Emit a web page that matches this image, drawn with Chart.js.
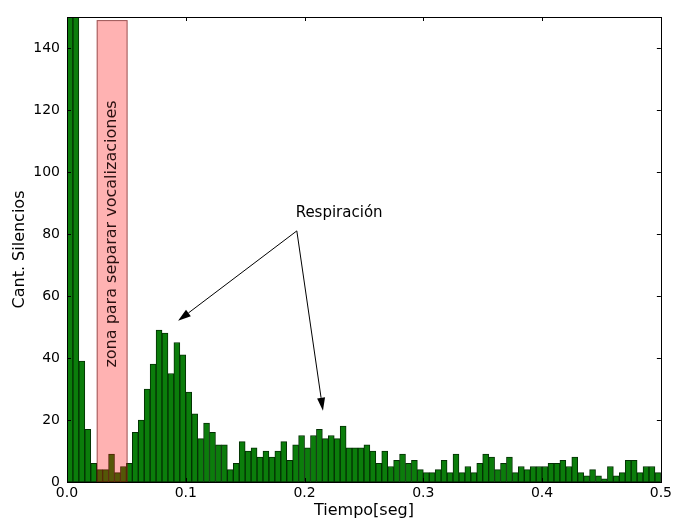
<!DOCTYPE html>
<html>
<head>
<meta charset="utf-8">
<script src="https://cdn.jsdelivr.net/npm/chart.js@4.4.0/dist/chart.umd.min.js"></script>
<style>
  body { margin: 0; background: #fff; }
  #wrap { width: 675px; height: 518px; }
</style>
</head>
<body>
<div id="wrap"><canvas id="silenceChart"></canvas></div>
<script>
// histogram of silence durations, bins of 5 ms
const binWidth = 0.005;
const counts = [
  260, 170, 39, 17, 6, 4, 4, 9, 3, 5,
  6, 16, 20, 30, 38, 49, 48, 35, 45, 41,
  29, 22, 14, 19, 16, 12, 12, 4, 6, 13,
  10, 11, 8, 10, 8, 10, 13, 7, 12, 15,
  11, 15, 17, 14, 15, 14, 18, 11, 11, 11,
  12, 10, 6, 10, 5, 7, 9, 6, 7, 4,
  3, 3, 4, 7, 3, 9, 3, 5, 3, 6,
  9, 8, 4, 6, 8, 3, 5, 4, 5, 5,
  5, 6, 6, 7, 5, 8, 3, 2, 4, 2,
  1, 5, 2, 3, 7, 7, 3, 5, 5, 3
];
const xTicks = [0, 0.1, 0.2, 0.3, 0.4, 0.5];
const yTicks = [0, 20, 40, 60, 80, 100, 120, 140];

// shaded zone and the "Respiración" callout, in data units
const zoneStart = 0.025;
const zoneEnd = 0.051;
const zoneTop = 149;
const zoneLabel = 'zona para separar vocalizaciones';
const zoneLabelAt = 80;
const noteText = 'Respiración';
const noteAt = [0.1925, 86.8];
const arrowFrom = [0.1935, 81];
const arrowTips = [[0.0935, 52], [0.2155, 23]];

const FONT = 'DejaVu Sans';

const decorations = {
  id: 'decorations',
  afterDatasetsDraw(chart) {
    const { ctx, scales: { x, y } } = chart;
    ctx.save();
    // translucent red span over the bars
    const x0 = x.getPixelForValue(zoneStart), x1 = x.getPixelForValue(zoneEnd);
    const yt = y.getPixelForValue(zoneTop), yb = y.getPixelForValue(0);
    ctx.fillStyle = 'rgba(255,0,0,0.3)';
    ctx.fillRect(x0, yt, x1 - x0, yb - yt);
    ctx.strokeStyle = 'rgba(90,20,20,0.6)';
    ctx.lineWidth = 1;
    ctx.strokeRect(x0 + 0.5, yt + 0.5, x1 - x0 - 1, yb - yt);

    ctx.translate((x0 + x1) / 2, y.getPixelForValue(zoneLabelAt));
    ctx.rotate(-Math.PI / 2);
    ctx.fillStyle = '#2a1010';
    ctx.font = '16px "' + FONT + '"';
    ctx.textAlign = 'center';
    ctx.textBaseline = 'middle';
    ctx.fillText(zoneLabel, 0, 0);
    ctx.restore();

    // callout text and arrows
    ctx.save();
    ctx.fillStyle = '#000';
    ctx.font = '15px "' + FONT + '"';
    ctx.textAlign = 'left';
    ctx.textBaseline = 'middle';
    ctx.fillText(noteText, x.getPixelForValue(noteAt[0]), y.getPixelForValue(noteAt[1]));
    const sx = x.getPixelForValue(arrowFrom[0]), sy = y.getPixelForValue(arrowFrom[1]);
    ctx.strokeStyle = '#000';
    ctx.lineWidth = 1;
    arrowTips.forEach(([tx, ty]) => {
      const ex = x.getPixelForValue(tx), ey = y.getPixelForValue(ty);
      const ang = Math.atan2(ey - sy, ex - sx);
      const len = 13, half = 4;
      const bx = ex - len * Math.cos(ang), by = ey - len * Math.sin(ang);
      ctx.beginPath();
      ctx.moveTo(sx, sy);
      ctx.lineTo(bx, by);
      ctx.stroke();
      ctx.beginPath();
      ctx.moveTo(ex, ey);
      ctx.lineTo(bx + half * Math.sin(ang), by - half * Math.cos(ang));
      ctx.lineTo(bx - half * Math.sin(ang), by + half * Math.cos(ang));
      ctx.closePath();
      ctx.fill();
    });
    ctx.restore();
  },
  afterDraw(chart) {
    const { ctx, chartArea: a, scales: { x, y } } = chart;
    ctx.save();
    ctx.strokeStyle = '#000';
    ctx.lineWidth = 1;
    ctx.strokeRect(Math.round(a.left) + 0.5, Math.round(a.top) + 0.5,
      Math.round(a.right - a.left), Math.round(a.bottom - a.top));
    // inward ticks on all four sides
    const tl = 4;
    ctx.beginPath();
    yTicks.forEach(v => {
      const py = Math.round(y.getPixelForValue(v)) + 0.5;
      ctx.moveTo(a.left, py); ctx.lineTo(a.left + tl, py);
      ctx.moveTo(a.right, py); ctx.lineTo(a.right - tl, py);
    });
    xTicks.forEach(v => {
      const px = Math.round(x.getPixelForValue(v)) + 0.5;
      ctx.moveTo(px, a.bottom); ctx.lineTo(px, a.bottom - tl);
      ctx.moveTo(px, a.top); ctx.lineTo(px, a.top + tl);
    });
    ctx.stroke();

    // axis titles
    ctx.fillStyle = '#000';
    ctx.font = '16px "' + FONT + '"';
    ctx.textAlign = 'center';
    ctx.textBaseline = 'middle';
    ctx.fillText('Tiempo[seg]', (a.left + a.right) / 2, a.bottom + 29);
    ctx.translate(a.left - 47, (a.top + a.bottom) / 2);
    ctx.rotate(-Math.PI / 2);
    ctx.fillText('Cant. Silencios', 0, 0);
    ctx.restore();
  }
};

new Chart(document.getElementById('silenceChart'), {
  type: 'bar',
  data: {
    datasets: [{
      data: counts.map((c, i) => ({ x: (i + 0.5) * binWidth, y: c })),
      backgroundColor: '#0b7d0b',
      borderColor: '#043004',
      borderWidth: 1,
      borderSkipped: false,
      barPercentage: 1,
      categoryPercentage: 1,
      clip: 0
    }]
  },
  options: {
    responsive: true,
    maintainAspectRatio: false,
    animation: false,
    layout: { padding: { left: 0, right: 14, top: 17, bottom: 0 } },
    plugins: { legend: { display: false }, tooltip: { enabled: false } },
    scales: {
      x: {
        type: 'linear',
        min: 0,
        max: 0.5,
        offset: false,
        grid: { display: false, drawTicks: false },
        border: { display: false },
        afterFit: s => { s.height = 36; },
        afterBuildTicks: s => { s.ticks = xTicks.map(v => ({ value: v })); },
        ticks: {
          padding: 3,
          color: '#000',
          font: { family: FONT, size: 14 },
          callback: v => v.toFixed(1)
        }
      },
      y: {
        min: 0,
        max: 150,
        grid: { display: false, drawTicks: false },
        border: { display: false },
        afterFit: s => { s.width = 67; },
        afterBuildTicks: s => { s.ticks = yTicks.map(v => ({ value: v })); },
        ticks: {
          padding: 7,
          color: '#000',
          font: { family: FONT, size: 14 }
        }
      }
    }
  },
  plugins: [decorations]
});
</script>
</body>
</html>
